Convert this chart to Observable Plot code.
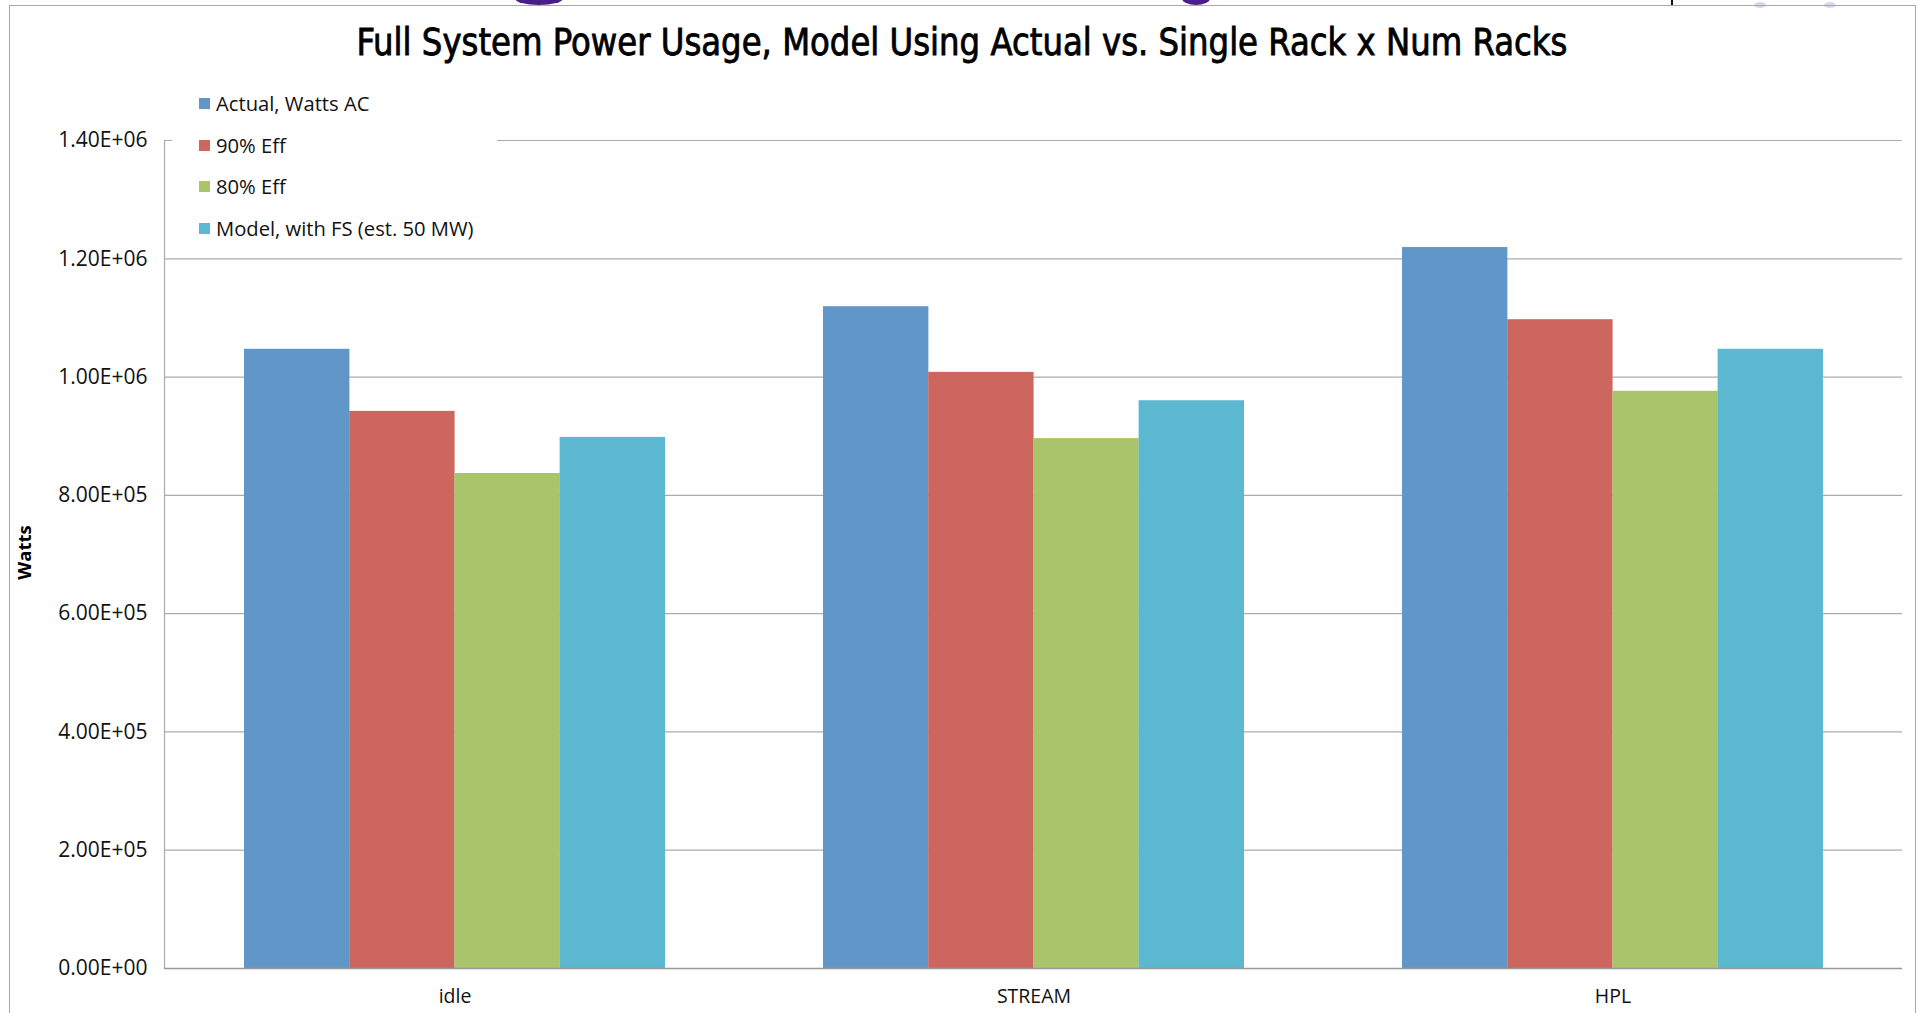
<!DOCTYPE html>
<html>
<head>
<meta charset="utf-8">
<script src="https://cdn.jsdelivr.net/npm/d3@7"></script>
<script src="https://cdn.jsdelivr.net/npm/@observablehq/plot@0.6"></script>
<style>
  html, body { margin: 0; padding: 0; background: #fff; }
  #page { position: relative; width: 1923px; height: 1013px; overflow: hidden; background: #fff; }
  #frame { position: absolute; left: 9px; top: 5px; width: 1907px; height: 1100px; border: 1.5px solid #a8a8a8; box-sizing: border-box; }
  #chart { position: absolute; left: 0; top: 0; }
  #chart g[aria-label^="x-axis"] { font-size: 19.5px; }
  #title { position: absolute; left: 0; top: 24px; width: 1923px; text-align: center; white-space: nowrap;
           font-family: "Liberation Sans Narrow", "DejaVu Sans Condensed", "Liberation Sans", sans-serif;
           font-size: 37px; line-height: 37px; font-weight: normal; color: #000;
           -webkit-text-stroke: 0.8px #000; }
  #title span { display: inline-block; transform-origin: 50% 50%; }
  #legend { position: absolute; left: 172px; top: 84px; width: 325px; height: 164px; background: #fff;
            font-family: "Open Sans", sans-serif; font-size: 20.2px; color: #111; }
  .item { position: absolute; left: 27px; height: 24px; display: flex; align-items: center; white-space: nowrap; }
  .sw { width: 11px; height: 11px; margin-right: 6px; flex: none; }
  .deco { position: absolute; }
</style>
</head>
<body>
<div id="page">
  <div class="deco" style="left:515px;top:-8px;width:48px;height:13px;border-radius:50%;background:#4b1d8c"></div>
  <div class="deco" style="left:1182px;top:-8px;width:28px;height:13px;border-radius:50%;background:#4b1d8c"></div>
  <div class="deco" style="left:1671px;top:0;width:2px;height:5px;background:#111"></div>
  <div class="deco" style="left:1754px;top:2px;width:12px;height:6px;border-radius:50%;background:#ddd5ee"></div>
  <div class="deco" style="left:1824px;top:2px;width:12px;height:6px;border-radius:50%;background:#ddd5ee"></div>
  <div id="frame"></div>
  <div id="chart"></div>
  <div id="title"><span id="title-text">Full System Power Usage, Model Using Actual vs. Single Rack x Num Racks</span></div>
  <div id="legend"></div>
</div>
<script>
// ---- Data ----
const categories = ["idle", "STREAM", "HPL"];
const seriesNames = ["Actual, Watts AC", "90% Eff", "80% Eff", "Model, with FS (est. 50 MW)"];
const actualWattsAC = [1047000, 1119000, 1219000];
const eff90 = [942000, 1008000, 1097000];
const eff80 = [837000, 896000, 976000];
const modelWithFS = [898000, 960000, 1047000];
const seriesColors = ["#6096C8", "#CD665F", "#AAC46C", "#5CB8D1"];
const yTicks = [0, 200000, 400000, 600000, 800000, 1000000, 1200000, 1400000];
const yLabel = "Watts";

const seriesValues = [actualWattsAC, eff90, eff80, modelWithFS];
const rows = [];
seriesNames.forEach((s, j) => categories.forEach((c, i) => rows.push({category: c, series: s, value: seriesValues[j][i]})));

// ---- Layout ----
const W = 1923, H = 1013;
const ML = 164, MR = 21, MT = 140, MB = 45;
const PAD_IN = 0.2736, PAD_OUT = PAD_IN / 2;
const step = (W - ML - MR) / (categories.length - PAD_IN + 2 * PAD_OUT);
const bandwidth = step * (1 - PAD_IN);
const barW = bandwidth / seriesNames.length;

function sci(d) {
  const [m, e] = d.toExponential(2).split("e");
  const n = Math.abs(+e);
  return m + "E" + (e[0] === "-" ? "-" : "+") + String(n).padStart(2, "0");
}

const gridColor = "#ababab";

const chart = Plot.plot({
  width: W,
  height: H,
  marginLeft: ML,
  marginRight: MR,
  marginTop: MT,
  marginBottom: MB,
  style: {fontFamily: "'Open Sans', sans-serif", fontSize: "21px", color: "#111", background: "transparent", overflow: "visible"},
  x: {domain: categories, paddingInner: PAD_IN, paddingOuter: PAD_OUT, tickSize: 0, tickPadding: 21, label: null},
  y: {domain: [0, 1400000], ticks: yTicks, tickFormat: sci, tickSize: 0, tickPadding: 17, label: null},
  marks: [
    Plot.ruleY(yTicks, {stroke: gridColor, strokeWidth: 1.2}),
    ...seriesNames.map((s, j) => Plot.barY(rows.filter(r => r.series === s), {
      x: "category",
      y: "value",
      fill: seriesColors[j],
      insetLeft: j * barW,
      insetRight: (seriesNames.length - 1 - j) * barW
    })),
    Plot.frame({anchor: "left", stroke: gridColor, strokeWidth: 1.2}),
    Plot.ruleY([0], {stroke: "#999", strokeWidth: 1.4}),
    Plot.text([yLabel], {frameAnchor: "left", textAnchor: "middle", rotate: -90, dx: -139, dy: -2, fontWeight: "bold", fontSize: 18.5, fill: "#000"})
  ]
});
document.getElementById("chart").appendChild(chart);

// ---- Legend ----
const legend = document.getElementById("legend");
const legendRowY = [19, 61, 102, 144];
seriesNames.forEach((s, j) => {
  const it = document.createElement("div");
  it.className = "item";
  it.style.top = (legendRowY[j] - 12) + "px";
  const sw = document.createElement("span");
  sw.className = "sw";
  sw.style.background = seriesColors[j];
  const tx = document.createElement("span");
  tx.textContent = s;
  it.appendChild(sw); it.appendChild(tx);
  legend.appendChild(it);
});

// ---- Title width fit ----
const tt = document.getElementById("title-text");
const tw = tt.getBoundingClientRect().width;
tt.style.transform = `scaleX(${1211 / tw})`;
</script>
</body>
</html>
